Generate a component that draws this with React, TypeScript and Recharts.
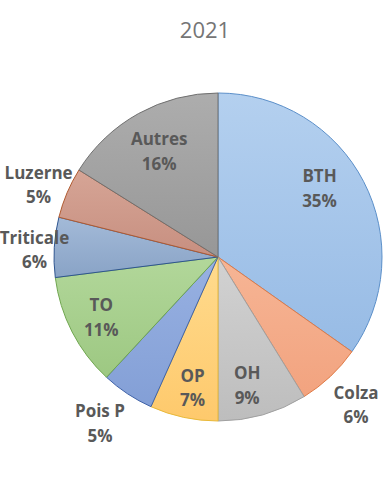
import React from 'react';
import { PieChart, Pie, Cell } from 'recharts';

const crops = ['BTH', 'Colza', 'OH', 'OP', 'Pois P', 'TO', 'Triticale', 'Luzerne', 'Autres'];
const shares = [34.8, 6.4, 8.8, 6.7, 5.2, 11.1, 5.9, 5.0, 16.1];

// gradient top / bottom and border per slice
const topColors = ['#b4d0ef', '#f6b595', '#d2d2d2', '#ffdb8e', '#98b1e2', '#b2d79a', '#a3bad8', '#d6a596', '#adadad'];
const bottomColors = ['#97bbe5', '#f2a37f', '#bdbdbd', '#fec96c', '#839fd6', '#9dc882', '#89a3c6', '#c78f80', '#979797'];
const borders = ['#5b8fc9', '#e07a45', '#a0a0a0', '#e8b93a', '#3f62a8', '#70a650', '#2f5590', '#b05a30', '#707070'];

// label placement: distance as share of radius, angle nudge in degrees
const labelDist = [0.75, 1.23, 0.8, 0.81, 1.24, 0.8, 1.12, 1.18, 0.74];
const labelNudge = [7, 0, -3, 1, -2, 0, 1, 1, 0];

const data = crops.map((name, i) => ({ name, value: shares[i] }));

const RAD = Math.PI / 180;

const renderLabel = (props: any) => {
  const { cx, cy, midAngle, outerRadius, index, name, percent } = props;
  const r = outerRadius * labelDist[index];
  const a = (midAngle + labelNudge[index]) * RAD;
  const x = cx + r * Math.cos(a);
  const y = cy - r * Math.sin(a);
  return (
    <text
      x={x}
      y={y}
      textAnchor="middle"
      fill="#595959"
      fontFamily="'Open Sans', sans-serif"
      fontWeight={700}
      fontSize={17}
    >
      <tspan x={x} y={y - 12} dominantBaseline="central">{name}</tspan>
      <tspan x={x} y={y + 12.5} dominantBaseline="central">{`${Math.round(percent * 100)}%`}</tspan>
    </text>
  );
};

export default function App() {
  return (
    <div style={{ position: 'absolute', left: 0, top: 0, width: 385, height: 481, background: '#fff' }}>
      <div
        style={{
          position: 'absolute',
          left: 0,
          top: 14,
          width: 410,
          textAlign: 'center',
          fontFamily: "'Open Sans', sans-serif",
          fontSize: 22,
          color: '#757575',
        }}
      >
        2021
      </div>
      <PieChart
        width={385}
        height={481}
        margin={{ top: 0, right: 0, bottom: 0, left: 0 }}
        style={{ overflow: 'visible' }}
      >
        <defs>
          {crops.map((c, i) => (
            <linearGradient key={c} id={`g${i}`} x1="0" y1="0" x2="0" y2="1">
              <stop offset="0%" stopColor={topColors[i]} />
              <stop offset="100%" stopColor={bottomColors[i]} />
            </linearGradient>
          ))}
        </defs>
        <Pie
          data={data}
          dataKey="value"
          nameKey="name"
          cx={218}
          cy={257}
          outerRadius={164}
          startAngle={90}
          endAngle={-270}
          label={renderLabel}
          labelLine={false}
          isAnimationActive={false}
        >
          {data.map((d, i) => (
            <Cell key={d.name} fill={`url(#g${i})`} stroke={borders[i]} strokeWidth={1} />
          ))}
        </Pie>
      </PieChart>
    </div>
  );
}
